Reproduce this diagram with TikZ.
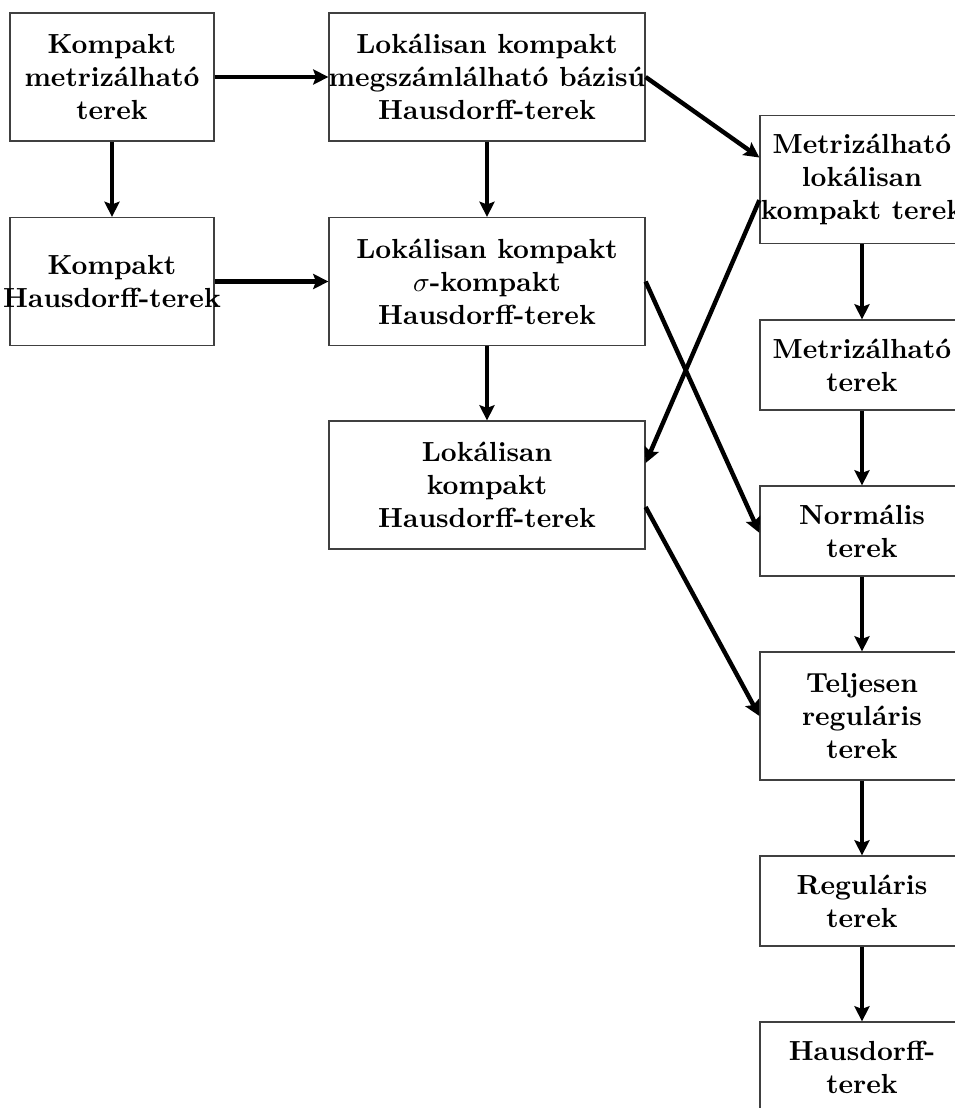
\documentclass[tikz,border=0pt]{standalone}
\usetikzlibrary{arrows.meta,calc}
\begin{document}
\begin{tikzpicture}[x=0.362pt,y=-0.362pt,
  box/.style={draw=black!75,line width=0.45pt,inner sep=0pt},
  lab/.style={align=center,font=\bfseries,inner sep=0pt},
  wbox/.style={box,minimum width=204*0.362pt},
  cbox/.style={box,minimum width=316*0.362pt},
  tall/.style={minimum height=128*0.362pt},
  short/.style={minimum height=90*0.362pt},
  arr/.style={line width=1.6pt,-{Stealth[length=5.5pt,width=5.5pt,inset=1pt]}}]
\useasboundingbox (0,0) rectangle (955,1108);
\node[wbox,tall,label={[lab]center:{Kompakt\\metrizálható\\terek}}] (A) at (112,77) {};
\node[wbox,tall,label={[lab]center:{Kompakt\\Hausdorff-terek}}] (B) at (112,281.5) {};
\node[cbox,tall,label={[lab]center:{Lokálisan kompakt\\megszámlálható bázisú\\Hausdorff-terek}}] (C) at (487,77) {};
\node[cbox,tall,label={[lab]center:{Lokálisan kompakt\\$\sigma$-kompakt\\Hausdorff-terek}}] (D) at (487,281.5) {};
\node[cbox,tall,label={[lab]center:{Lokálisan\\kompakt\\Hausdorff-terek}}] (E) at (487,485) {};
\node[wbox,tall,label={[lab]center:{Metrizálható\\lokálisan\\kompakt terek}}] (F) at (862,179.5) {};
\node[wbox,short,label={[lab]center:{Metrizálható\\terek}}] (G) at (862,365) {};
\node[wbox,short,label={[lab]center:{Normális\\terek}}] (H) at (862,531) {};
\node[wbox,tall,label={[lab]center:{Teljesen\\reguláris\\terek}}] (I) at (862,716) {};
\node[wbox,short,label={[lab]center:{Reguláris\\terek}}] (J) at (862,901) {};
\node[wbox,short,label={[lab]center:{Hausdorff-\\terek}}] (K) at (862,1067) {};
\draw[arr] (A) -- (C);
\draw[arr] (A) -- (B);
\draw[arr] (B) -- (D);
\draw[arr] (C) -- (D);
\draw[arr] (D) -- (E);
\draw[arr] (C.east) -- ($(F.north west)!0.33!(F.south west)$);
\draw[arr] ($(F.north west)!0.66!(F.south west)$) -- ($(E.north east)!0.33!(E.south east)$);
\draw[arr] (D.east) -- ($(H.north west)!0.52!(H.south west)$);
\draw[arr] ($(E.north east)!0.67!(E.south east)$) -- (I.west);
\draw[arr] (F) -- (G);
\draw[arr] (G) -- (H);
\draw[arr] (H) -- (I);
\draw[arr] (I) -- (J);
\draw[arr] (J) -- (K);
\end{tikzpicture}
\end{document}
